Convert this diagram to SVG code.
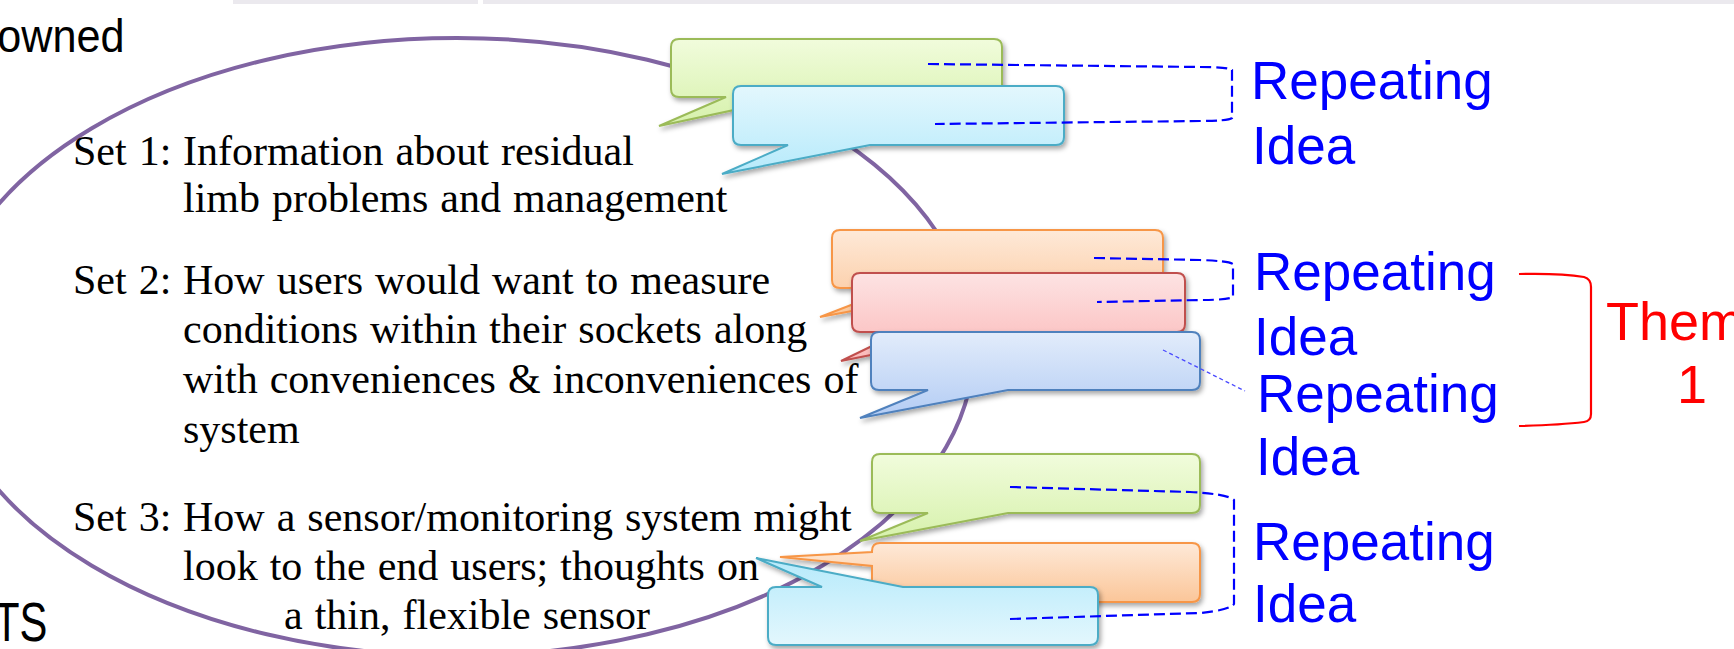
<svg xmlns="http://www.w3.org/2000/svg" width="1734" height="649" viewBox="0 0 1734 649">
<style>
.serif{font-family:"Liberation Serif","Times New Roman",serif;font-size:42px;fill:#000;word-spacing:1.5px}
.sans{font-family:"Liberation Sans",Arial,sans-serif;fill:#000}
.rep{font-family:"Liberation Sans",Arial,sans-serif;font-size:53px;fill:#0000ff}
.theme{font-family:"Liberation Sans",Arial,sans-serif;font-size:54px;fill:#ff0000}
.bub{stroke-width:2;filter:url(#sh)}
.dash{fill:none;stroke:#0000ff;stroke-width:2.2;stroke-dasharray:11 5}
.thin{fill:none;stroke:#4a4aff;stroke-width:1.3;stroke-dasharray:4 3}
.brace{fill:none;stroke:#ff0000;stroke-width:2.2}
</style>
<defs>
<filter id="sh" x="-10%" y="-20%" width="120%" height="150%">
<feDropShadow dx="2" dy="3" stdDeviation="2.5" flood-color="#000" flood-opacity="0.35"/>
</filter>
<linearGradient id="gG" x1="0" y1="0" x2="0" y2="1"><stop offset="0" stop-color="#f1fcdc"/><stop offset="1" stop-color="#d6f1ab"/></linearGradient>
<linearGradient id="gC" x1="0" y1="0" x2="0" y2="1"><stop offset="0" stop-color="#e3f7fd"/><stop offset="1" stop-color="#b6eafb"/></linearGradient>
<linearGradient id="gCr" x1="0" y1="0" x2="0" y2="1"><stop offset="0" stop-color="#b6eafb"/><stop offset="1" stop-color="#e3f7fd"/></linearGradient>
<linearGradient id="gO" x1="0" y1="0" x2="0" y2="1"><stop offset="0" stop-color="#fee9d8"/><stop offset="1" stop-color="#fbc699"/></linearGradient>
<linearGradient id="gR" x1="0" y1="0" x2="0" y2="1"><stop offset="0" stop-color="#fde3e3"/><stop offset="1" stop-color="#fbb9b9"/></linearGradient>
<linearGradient id="gB" x1="0" y1="0" x2="0" y2="1"><stop offset="0" stop-color="#e2ecfb"/><stop offset="1" stop-color="#b3ccf4"/></linearGradient>
</defs>
<rect width="1734" height="649" fill="#fff"/>
<rect x="233" y="0" width="245" height="4" fill="#ebe9ee"/>
<rect x="483" y="0" width="1251" height="4" fill="#ebe9ee"/>

<g id="corner-texts">
<text class="sans" x="-3" y="52" font-size="47" transform="scale(0.92 1)">owned</text>
<text class="sans" x="-8" y="641" font-size="55" transform="scale(0.76 1)">TS</text>
</g>

<ellipse id="ellipse" cx="457" cy="347" rx="517" ry="309" fill="none" stroke="#8064a2" stroke-width="4"/>

<g id="set1">
<text class="serif" x="73" y="165">Set 1:</text>
<text class="serif" x="183" y="165">Information about residual</text>
<text class="serif" x="183" y="212">limb problems and management</text>
</g>
<g id="set2">
<text class="serif" x="73" y="294">Set 2:</text>
<text class="serif" x="183" y="294">How users would want to measure</text>
<text class="serif" x="183" y="343">conditions within their sockets along</text>
<text class="serif" x="183" y="393">with conveniences &amp; inconveniences of</text>
<text class="serif" x="183" y="443">system</text>
</g>
<g id="set3">
<text class="serif" x="73" y="531">Set 3:</text>
<text class="serif" x="183" y="531">How a sensor/monitoring system might</text>
<text class="serif" x="183" y="580">look to the end users; thoughts on</text>
<text class="serif" x="284" y="629">a thin, flexible sensor</text>
</g>

<g id="bubble-green-1"><path class="bub" fill="url(#gG)" stroke="#9bbb59" d="M679,39 H994 Q1002,39 1002,47 V89 Q1002,97 994,97 H795 L659,126 L726,97 H679 Q671,97 671,89 V47 Q671,39 679,39 Z"/></g>
<g id="bubble-cyan-1"><path class="bub" fill="url(#gC)" stroke="#4bacc6" d="M741,86 H1056 Q1064,86 1064,94 V137 Q1064,145 1056,145 H870 L722,174 L788,145 H741 Q733,145 733,137 V94 Q733,86 741,86 Z"/></g>
<g id="bubble-orange-1"><path class="bub" fill="url(#gO)" stroke="#f79646" d="M840,230 H1155 Q1163,230 1163,238 V280 Q1163,288 1155,288 H975 L820,317 L895,288 H840 Q832,288 832,280 V238 Q832,230 840,230 Z"/></g>
<g id="bubble-red-1"><path class="bub" fill="url(#gR)" stroke="#c0504d" d="M860,273 H1177 Q1185,273 1185,281 V324 Q1185,332 1177,332 H985 L841,361 L901,332 H860 Q852,332 852,324 V281 Q852,273 860,273 Z"/></g>
<g id="bubble-blue-1"><path class="bub" fill="url(#gB)" stroke="#4f81bd" d="M879,332 H1192 Q1200,332 1200,340 V382 Q1200,390 1192,390 H1008 L860,418 L928,390 H879 Q871,390 871,382 V340 Q871,332 879,332 Z"/></g>
<g id="bubble-green-2"><path class="bub" fill="url(#gG)" stroke="#9bbb59" d="M880,454 H1192 Q1200,454 1200,462 V505 Q1200,513 1192,513 H1008 L860,541 L928,513 H880 Q872,513 872,505 V462 Q872,454 880,454 Z"/></g>
<g id="bubble-orange-2"><path class="bub" fill="url(#gO)" stroke="#f79646" d="M880,543 H1192 Q1200,543 1200,551 V594 Q1200,602 1192,602 H880 Q872,602 872,594 V566 L780,557 L872,552 V551 Q872,543 880,543 Z"/></g>
<g id="bubble-cyan-2"><path class="bub" fill="url(#gCr)" stroke="#4bacc6" d="M776,587 H822 L756,558 L903,587 H1090 Q1098,587 1098,595 V637 Q1098,645 1090,645 H776 Q768,645 768,637 V595 Q768,587 776,587 Z"/></g>

<g id="connectors">
<path class="dash" d="M928,64 L1200,67 Q1228,67 1232,70 L1232,118 Q1228,121 1200,121 L935,124"/>
<path class="dash" d="M1094,258 L1200,260 Q1228,261 1233,264 L1233,297 Q1228,300 1200,300 L1097,302"/>
<path class="dash" d="M1010,487 L1190,492 Q1228,494 1234,500 L1234,604 Q1230,610 1200,613 L1010,619"/>
<path class="thin" d="M1163,350 L1245,391"/>
<path class="brace" d="M1519,274 Q1560,273 1584,277 Q1591,279 1591,287 L1591,414 Q1591,421 1584,422 Q1560,425 1519,426"/>
</g>

<g id="label-idea-1"><text class="rep" x="1251" y="99">Repeating</text><text class="rep" x="1252" y="164">Idea</text></g>
<g id="label-idea-2"><text class="rep" x="1254" y="290">Repeating</text><text class="rep" x="1254" y="355">Idea</text></g>
<g id="label-idea-3"><text class="rep" x="1257" y="412">Repeating</text><text class="rep" x="1256" y="475">Idea</text></g>
<g id="label-idea-4"><text class="rep" x="1253" y="560">Repeating</text><text class="rep" x="1253" y="622">Idea</text></g>
<g id="label-theme"><text class="theme" x="1606" y="340">Them</text><text class="theme" x="1677" y="403">1</text></g>
</svg>
